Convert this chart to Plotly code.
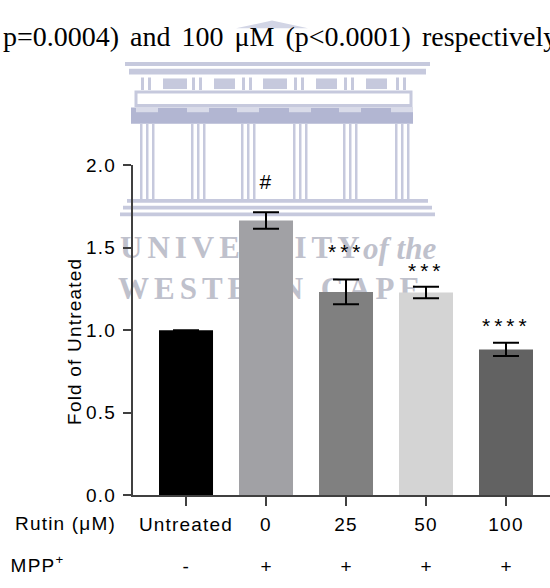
import plotly.graph_objects as go

# ---- data -------------------------------------------------------------
rutin_labels = ["Untreated", "0", "25", "50", "100"]
mpp_labels = ["-", "+", "+", "+", "+"]
fold_mean = [1.0, 1.665, 1.232, 1.228, 0.883]
fold_sem = [0.0, 0.05, 0.075, 0.035, 0.04]
significance = ["", "#", "***", "***", "****"]
y_ticks = [0, 0.5, 1.0, 1.5, 2.0]

# ---- styling ----------------------------------------------------------
W, H = 550, 588
bar_colors = ["#000000", "#a1a1a5", "#808080", "#d4d4d4", "#626262"]
sig_shift = [0, 17, 15, 3, 4]
SANS = "Liberation Sans, Arial, sans-serif"
SERIF = "Liberation Serif, Times New Roman, serif"
AXIS = "#404040"
WM = "#c6c9dd"      # watermark line colour
WM_DARK = "#b2b6d2"
WM_TEXT = "#bfc1cc"


def px(x):
    return x / W


def py(y):
    return 1 - y / H


fig = go.Figure()

# watermark lettering (in the background subplot so the bars sit on top)
fig.add_trace(go.Scatter(
    x=[120, 363, 118], y=[249, 250, 292],
    mode="text", text=["UNIVERSITY", "<i>of the</i>", "WESTERN CAPE"],
    textposition="middle right",
    textfont=dict(family=SERIF, size=31, color=WM_TEXT, weight="bold"),
    hoverinfo="skip", cliponaxis=False, showlegend=False,
    xaxis="x", yaxis="y",
))

# bar chart
fig.add_trace(go.Bar(
    x=list(range(len(fold_mean))), y=fold_mean, width=0.675,
    marker=dict(color=bar_colors, line=dict(width=0)),
    error_y=dict(type="data", array=fold_sem, visible=True,
                 color="black", thickness=2, width=13),
    hoverinfo="skip", showlegend=False,
    xaxis="x2", yaxis="y2",
))

# ---- watermark building drawn with shapes -----------------------------
shapes = []


def rect(x0, y0, x1, y1, fill=None, line=None, lw=0):
    shapes.append(dict(type="rect", xref="x", yref="y", layer="below",
                       x0=x0, y0=y0, x1=x1, y1=y1,
                       fillcolor=fill or "rgba(0,0,0,0)",
                       line=dict(color=line or "rgba(0,0,0,0)", width=lw)))


# pediment tip peeking above the text line
shapes.append(dict(type="path", xref="x", yref="y", layer="below",
                   path="M 236 19 L 272 11 L 308 19 Z",
                   fillcolor="#d2d5e5", line=dict(width=0)))
# cornice
rect(125, 54, 430, 58, fill=WM)
rect(129, 61, 426, 67, fill=WM)
# window row
col_centres = [147, 198, 248, 300, 350, 402]
for c in col_centres:
    rect(c - 6, 70, c - 3, 83, fill=WM)
    rect(c + 1, 70, c + 4, 83, fill=WM)
for a, b in [(163, 187), (214, 235), (263, 287), (316, 337), (366, 387)]:
    rect(a, 71, b, 82, fill=WM)
# frieze
rect(136, 85, 411, 99, line=WM, lw=3)
# capitals band
rect(131, 101, 413, 118, fill=WM_DARK)
for c in col_centres:
    rect(c - 11, 101, c + 11, 106, fill="#d9dbe9")
# columns
for c in col_centres:
    for off in (-7, -1, 5):
        rect(c + off, 118, c + off + 2.5, 196, fill=WM)
# steps
rect(127, 196, 428, 200, fill=WM)
rect(123, 203, 432, 207, fill=WM)
rect(120, 210, 435, 214, fill=WM)

# ---- annotations ------------------------------------------------------
ann = []
ann.append(dict(text="p=0.0004) and 100 μM (p<0.0001) respectively",
                xref="paper", yref="paper", x=px(1), y=py(27),
                xanchor="left", yanchor="middle", align="left",
                showarrow=False,
                font=dict(family=SERIF, size=28, color="black")))
ann.append(dict(text="Fold of Untreated", textangle=-90,
                xref="paper", yref="paper", x=px(75), y=py(344),
                xanchor="center", yanchor="middle", showarrow=False,
                font=dict(family=SANS, size=19, color="black")))
ann.append(dict(text="Rutin (μM)", xref="paper", yref="paper",
                x=px(65), y=py(532), xanchor="center", yanchor="middle",
                showarrow=False, font=dict(family=SANS, size=19, color="black")))
ann.append(dict(text="MPP<sup>+</sup>", xref="paper", yref="paper",
                x=px(11), y=py(574), xanchor="left", yanchor="middle",
                showarrow=False, font=dict(family=SANS, size=19, color="black")))
for i, lab in enumerate(mpp_labels):
    ann.append(dict(text=lab, xref="x2", yref="paper", x=i, y=py(577),
                    xanchor="center", yanchor="middle", showarrow=False,
                    font=dict(family=SANS, size=19, color="black")))
for i, lab in enumerate(significance):
    if not lab:
        continue
    ann.append(dict(text=lab, xref="x2", yref="y2", x=i,
                    y=fold_mean[i] + fold_sem[i], yshift=sig_shift[i],
                    xanchor="center", yanchor="bottom", showarrow=False,
                    font=dict(family=SANS, size=21, color="black")))

fig.update_layout(
    width=W, height=H,
    margin=dict(l=0, r=0, t=0, b=0),
    paper_bgcolor="white", plot_bgcolor="rgba(0,0,0,0)",
    hovermode=False, showlegend=False,
    shapes=shapes, annotations=ann,
    xaxis=dict(domain=[0, 1], range=[0, W], visible=False, fixedrange=True),
    yaxis=dict(domain=[0, 1], range=[H, 0], visible=False, fixedrange=True),
    xaxis2=dict(domain=[px(132.5), 1], range=[-0.669, 4.55], anchor="y2",
                tickmode="array", tickvals=list(range(len(rutin_labels))),
                ticktext=rutin_labels, ticks="outside", ticklen=9,
                tickwidth=1.5, tickcolor=AXIS, showline=True,
                linecolor=AXIS, linewidth=1.5, showgrid=False,
                zeroline=False, ticklabelstandoff=2,
                tickfont=dict(family=SANS, size=19, color="black")),
    yaxis2=dict(domain=[py(503), py(161)], range=[0, 2], anchor="x2",
                tickmode="array", tickvals=y_ticks, tickformat=".1f",
                ticks="outside", ticklen=8, tickwidth=1.5, tickcolor=AXIS,
                showline=True, linecolor=AXIS, linewidth=1.5,
                showgrid=False, zeroline=False, ticklabelstandoff=3,
                tickfont=dict(family=SANS, size=19, color="black")),
)

# widen character spacing of the chart lettering
spacing_js = """
var gd = document.getElementById('{plot_id}');
gd.querySelectorAll('text').forEach(function (t) {
    var fam = (t.getAttribute('style') || '') + ' ' +
              (t.getAttribute('font-family') || '');
    var txt = (t.textContent || '').trim();
    var inPoint = t.parentNode && t.parentNode.classList &&
                  t.parentNode.classList.contains('textpoint');
    if (inPoint) {
        if (txt === txt.toUpperCase()) { t.style.letterSpacing = '5px'; }
    } else if (fam.indexOf('Liberation Sans') >= 0) {
        t.style.letterSpacing = /^[*]+$/.test(txt) ? '4px' : '1.2px';
    } else if (fam.indexOf('Liberation Serif') >= 0) {
        t.style.wordSpacing = '4px';
    }
});
"""

fig.write_html("out.html", post_script=spacing_js,
               config={"displayModeBar": False, "responsive": False})
